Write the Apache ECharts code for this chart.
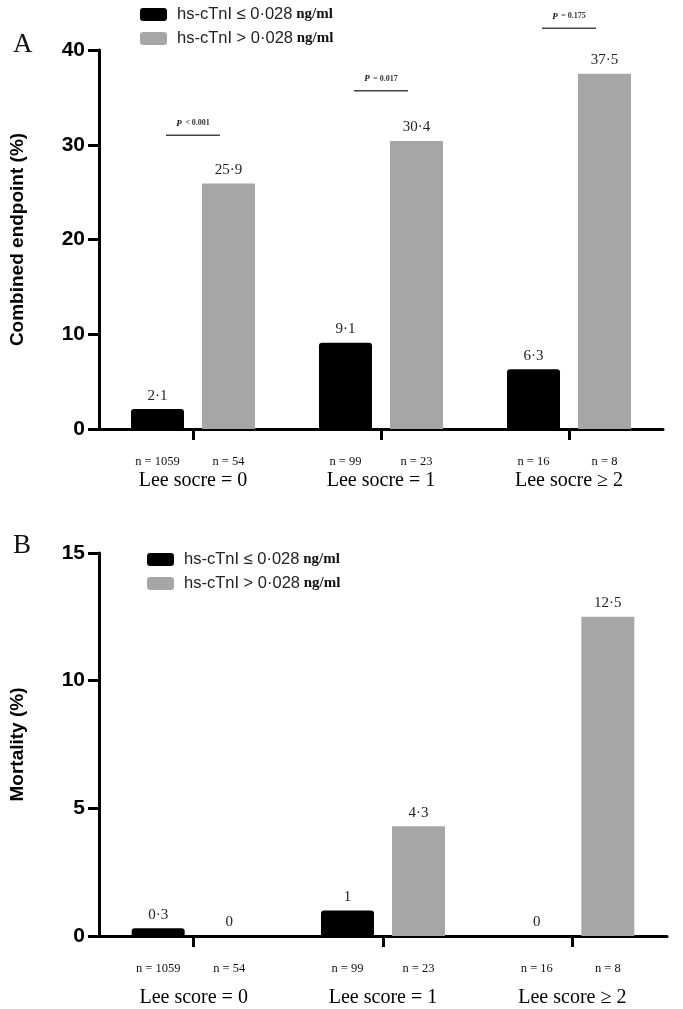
<!DOCTYPE html>
<html>
<head>
<meta charset="utf-8">
<script src="https://cdn.jsdelivr.net/npm/echarts@6/dist/echarts.min.js"></script>
<style>
html,body{margin:0;padding:0;background:#fff;}
#chart{width:683px;height:1009px;}
</style>
</head>
<body>
<div id="chart"></div>
<script>
const categoriesA = ['Lee socre = 0', 'Lee socre = 1', 'Lee socre \u2265 2'];
const categoriesB = ['Lee score = 0', 'Lee score = 1', 'Lee score \u2265 2'];
const nLow = ['1059', '99', '16'];
const nHigh = ['54', '23', '8'];
const endpointLow = [2.1, 9.1, 6.3];
const endpointHigh = [25.9, 30.4, 37.5];
const mortalityLow = [0.3, 1, 0];
const mortalityHigh = [0, 4.3, 12.5];
const pValues = ['< 0.001', '= 0.017', '= 0.175'];
const pLineLevel = [31, 35.7, 42.3];
const yTicksA = [0, 10, 20, 30, 40];
const yTicksB = [0, 5, 10, 15];
const seriesLow = 'hs-cTnI \u2264 0\u00b7028 ng/ml';
const seriesHigh = 'hs-cTnI > 0\u00b7028 ng/ml';

const BLACK = '#000000';
const GRAY = '#a6a6a6';
const chart = echarts.init(document.getElementById('chart'), null, {renderer: 'canvas'});

function fmtVal(p) { return String(p.value).replace('.', '\u00b7'); }

function xAxisCfg(grid, cats, secondGap) {
  return {
    type: 'category', gridIndex: grid, data: cats,
    axisLine: {lineStyle: {color: '#000', width: 3}},
    axisTick: {show: true, alignWithLabel: true, length: 11, lineStyle: {color: '#000', width: 3}},
    axisLabel: {
      margin: 26, color: '#000', interval: 0,
      formatter: function (v, i) {
        return '{n|n = ' + nLow[i] + '}{n|n = ' + nHigh[i] + '}\n{c|' + v + '}';
      },
      rich: {
        n: {fontFamily: 'Liberation Serif', fontSize: 12.5, width: 71, align: 'center', lineHeight: 14, color: '#111'},
        c: {fontFamily: 'Liberation Serif', fontSize: 20, lineHeight: secondGap, color: '#000'}
      }
    }
  };
}

function yAxisCfg(grid, ticks, name) {
  return {
    type: 'value', gridIndex: grid,
    min: ticks[0], max: ticks[ticks.length - 1], interval: ticks[1] - ticks[0],
    name: name, nameLocation: 'middle', nameGap: 72, nameRotate: 90,
    nameTextStyle: {fontFamily: 'Liberation Sans', fontWeight: 'bold', fontSize: 19, color: '#000'},
    axisLine: {show: true, lineStyle: {color: '#000', width: 3}},
    axisTick: {show: true, length: 11, lineStyle: {color: '#000', width: 3}},
    axisLabel: {margin: 14, fontFamily: 'Liberation Sans', fontWeight: 'bold', fontSize: 21, color: '#000'},
    splitLine: {show: false}
  };
}

const labelCfg = {
  show: true, position: 'top', distance: 6, formatter: fmtVal,
  fontFamily: 'Liberation Serif', fontSize: 15, color: '#222'
};

function legendCfg(left, top) {
  return {
    left: left, top: top, orient: 'vertical', itemWidth: 27, itemHeight: 13, itemGap: 7,
    icon: 'roundRect', selectedMode: false,
    data: [seriesLow, seriesHigh],
    formatter: function (name) {
      const parts = name.split(' ng/ml');
      return '{a|' + parts[0] + '}{b| ng/ml}';
    },
    textStyle: {
      rich: {
        a: {fontFamily: 'Liberation Sans', fontSize: 16.5, color: '#222', lineHeight: 18, padding: [0, 0, 0, 5]},
        b: {fontFamily: 'Liberation Serif', fontWeight: 'bold', fontSize: 15, color: '#111', lineHeight: 18}
      }
    }
  };
}

const option = {
  animation: false,
  backgroundColor: '#fff',
  title: [
    {text: 'A', left: 8, top: 26, textStyle: {fontFamily: 'Liberation Serif', fontWeight: 'normal', fontSize: 27, color: '#111'}},
    {text: 'B', left: 8, top: 527, textStyle: {fontFamily: 'Liberation Serif', fontWeight: 'normal', fontSize: 27, color: '#111'}}
  ],
  legend: [legendCfg(135, 1), legendCfg(142, 546)],
  grid: [
    {left: 91, right: 20, top: 50, bottom: 580, containLabel: false},
    {left: 91, right: 16, top: 553, bottom: 73, containLabel: false}
  ],
  xAxis: [xAxisCfg(0, categoriesA, 24), xAxisCfg(1, categoriesB, 44)],
  yAxis: [yAxisCfg(0, yTicksA, 'Combined endpoint (%)'), yAxisCfg(1, yTicksB, 'Mortality (%)')],
  series: [
    {name: seriesLow, type: 'bar', xAxisIndex: 0, yAxisIndex: 0, data: endpointLow, barWidth: 53, barGap: '34%',
      itemStyle: {color: BLACK, borderRadius: [3, 3, 0, 0]}, label: labelCfg},
    {name: seriesHigh, type: 'bar', xAxisIndex: 0, yAxisIndex: 0, data: endpointHigh, barWidth: 53, barGap: '34%',
      itemStyle: {color: GRAY}, label: labelCfg},
    {name: seriesLow, type: 'bar', xAxisIndex: 1, yAxisIndex: 1, data: mortalityLow, barWidth: 53, barGap: '34%',
      itemStyle: {color: BLACK, borderRadius: [3, 3, 0, 0]}, label: labelCfg},
    {name: seriesHigh, type: 'bar', xAxisIndex: 1, yAxisIndex: 1, data: mortalityHigh, barWidth: 53, barGap: '34%',
      itemStyle: {color: GRAY}, label: labelCfg}
  ]
};
chart.setOption(option);

const graphics = [];
pValues.forEach(function (pv, i) {
  const pt = chart.convertToPixel({xAxisIndex: 0, yAxisIndex: 0}, [i, pLineLevel[i]]);
  graphics.push({
    type: 'line', shape: {x1: pt[0] - 27, y1: pt[1], x2: pt[0] + 27, y2: pt[1]},
    style: {stroke: '#444', lineWidth: 1.5}
  });
  graphics.push({
    type: 'text', x: pt[0], y: pt[1] - 12,
    style: {
      text: '{p|P} {t|' + pv + '}', align: 'center', verticalAlign: 'middle',
      rich: {
        p: {fontFamily: 'Liberation Serif', fontStyle: 'italic', fontWeight: 'bold', fontSize: 9, fill: '#111'},
        t: {fontFamily: 'Liberation Serif', fontWeight: 'bold', fontSize: 8, fill: '#333'}
      }
    }
  });
});
chart.setOption({graphic: graphics});
</script>
</body>
</html>
